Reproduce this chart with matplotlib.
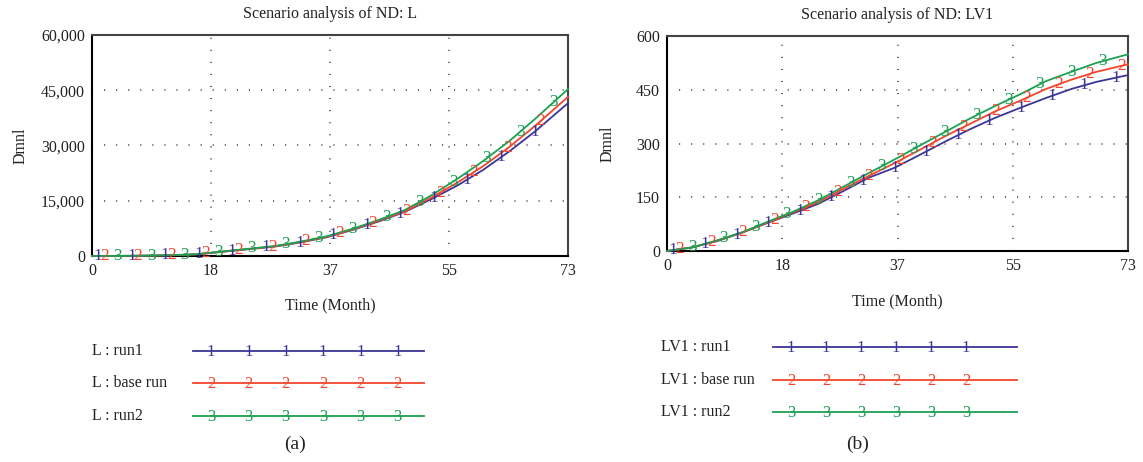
import numpy as np
from matplotlib import pyplot as plt

months = [0, 4, 8, 12, 16, 20, 24, 28, 32, 36, 40, 44, 48, 52, 56, 60, 64, 68, 73]

L_run1 = [0, 20, 75, 190, 430, 1150, 1850, 2550, 3700, 5100, 7100, 9400, 12000, 15400, 19100, 23400, 28400, 33900, 41500]
L_base = [0, 20, 80, 200, 450, 1200, 1900, 2600, 3800, 5200, 7200, 9600, 12100, 15800, 19900, 24400, 29600, 35400, 43200]
L_run2 = [0, 20, 85, 210, 470, 1250, 1950, 2700, 3900, 5350, 7400, 9800, 12500, 16400, 20900, 25800, 31200, 37300, 45300]

LV1_run1 = [0, 10, 28, 52, 79, 105, 132, 168, 205, 232, 268, 305, 340, 372, 400, 427, 452, 472, 491]
LV1_base = [0, 10, 29, 52, 80, 108, 137, 174, 210, 245, 282, 320, 355, 390, 420, 452, 478, 500, 521]
LV1_run2 = [0, 10, 30, 53, 82, 110, 142, 180, 218, 255, 294, 332, 370, 405, 438, 474, 500, 525, 549]

x_ticks = [0, 18.25, 36.5, 54.75, 73]
x_labels = ['0', '18', '37', '55', '73']
L_ticks = [0, 15000, 30000, 45000, 60000]
LV1_ticks = [0, 150, 300, 450, 600]

run_names = ['run1', 'base run', 'run2']
colors = ['#3b3597', '#f2452b', '#1ba052']
digits = ['1', '2', '3']

plt.rcParams['font.family'] = ['Liberation Serif', 'DejaVu Serif']
FS = 11.5

W, H = 1143, 462
fig = plt.figure(figsize=(W / 100, H / 100), dpi=100)


def make_axes(px_left, px_top, px_right, px_bottom):
    return fig.add_axes([px_left / W, 1 - px_bottom / H,
                         (px_right - px_left) / W, (px_bottom - px_top) / H])


def draw_panel(ax, series, yticks, ylabels, title, spacing, offsets, xpad, ypad):
    for vals, c, d, off in zip(series, colors, digits, offsets):
        ax.plot(months, vals, color=c, lw=1.3, zorder=3, clip_on=False)
        for m in np.arange(off, 73, spacing):
            ax.text(m, np.interp(m, months, vals), d, color=c, fontsize=12.5,
                    ha='center', va='center', zorder=4)
    ax.set_xlim(0, 73)
    ax.set_ylim(yticks[0], yticks[-1])
    ax.set_xticks(x_ticks)
    ax.set_xticklabels(x_labels)
    ax.set_yticks(yticks)
    ax.set_yticklabels(ylabels)
    ax.tick_params(length=0, labelsize=FS, colors='#222222', pad=5)
    for t in x_ticks[1:-1]:
        ax.axvline(t, color='#333333', lw=1.1, dashes=(0.7, 7.2), zorder=1)
    for t in yticks[1:-1]:
        ax.axhline(t, color='#333333', lw=1.1, dashes=(0.7, 7.2), zorder=1)
    for s in ax.spines.values():
        s.set_color('#444444')
        s.set_linewidth(1.5)
    ax.spines['left'].set_color('black')
    ax.spines['bottom'].set_color('black')
    ax.set_title(title, fontsize=FS, pad=12, color='#222222')
    ax.set_xlabel('Time (Month)', fontsize=FS, labelpad=xpad, color='#222222')
    ax.set_ylabel('Dmnl', fontsize=FS, labelpad=ypad, color='#222222')


ax1 = make_axes(92, 35, 568, 256)
draw_panel(ax1, [L_run1, L_base, L_run2], L_ticks,
           [f'{v:,}' for v in L_ticks], 'Scenario analysis of ND: L',
           5.15, [0.9, 1.9, 3.9], 13, 9)

ax2 = make_axes(667, 36, 1128, 251)
draw_panel(ax2, [LV1_run1, LV1_base, LV1_run2], LV1_ticks,
           [str(v) for v in LV1_ticks], 'Scenario analysis of ND: LV1',
           5.0, [1, 2, 4], 14, 15)

# legends drawn beneath each panel, in pixel space
leg = fig.add_axes([0, 0, 1, 1])
leg.set_xlim(0, W)
leg.set_ylim(H, 0)
leg.axis('off')


def draw_legend(var, text_x, line_x0, line_x1, ys, step, label, label_x):
    for name, c, d, y in zip(run_names, colors, digits, ys):
        leg.text(text_x, y, f'{var} : {name}', fontsize=FS, color='#222222',
                 ha='left', va='center')
        leg.plot([line_x0, line_x1], [y, y], color=c, lw=1.3)
        for k in range(6):
            leg.text(line_x0 + 18 + k * step, y + 1, d, color=c, fontsize=12,
                     ha='center', va='center')
    leg.text(label_x, 444, label, fontsize=14, color='#222222', ha='center', va='center')


draw_legend('L', 92, 193, 424, [351, 383, 416], 37.3, '(a)', 295)
draw_legend('LV1', 661, 773, 1017, [347, 380, 412], 35, '(b)', 858)

fig.savefig('out.png', dpi=100)
